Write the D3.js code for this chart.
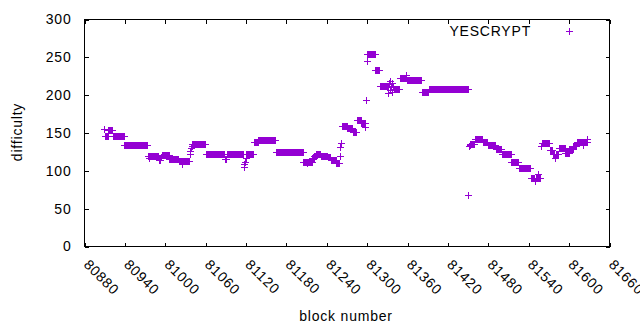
<!DOCTYPE html>
<html><head><meta charset="utf-8">
<script src="https://cdn.jsdelivr.net/npm/d3@7"></script>
<style>
body{margin:0;background:#fff}
svg text{font-family:"Liberation Sans",Arial,sans-serif;font-size:14px;fill:#000;letter-spacing:0.8px}
</style>
</head><body>
<svg id="chart" width="640" height="330"></svg>
<script>
// Difficulty per block, stored as runs of constant difficulty (start block, end block, value)
const runStart = [80910,80911,80916,80923,80940,80975,80991,80994,80996,81007,81021,81026,81027,81037,81038,81039,81040,81041,81061,81089,81092,81116,81117,81118,81119,81120,81121,81132,81139,81165,81206,81219,81222,81225,81232,81242,81247,81255,81260,81261,81262,81264,81271,81279,81285,81292,81298,81299,81300,81301,81313,81320,81332,81333,81334,81335,81336,81337,81338,81339,81340,81349,81359,81360,81382,81392,81451,81452,81453,81454,81461,81473,81480,81492,81501,81515,81526,81544,81559,81560,81572,81577,81585,81595,81601,81607,81612,81628];
const runEnd   = [80910,80915,80922,80939,80974,80990,80993,80995,81006,81020,81025,81026,81036,81037,81038,81039,81040,81060,81088,81091,81115,81116,81117,81118,81119,81120,81131,81138,81164,81205,81218,81221,81224,81231,81241,81246,81254,81259,81260,81261,81262,81270,81278,81284,81291,81297,81298,81299,81300,81312,81319,81331,81332,81333,81334,81335,81336,81337,81338,81339,81348,81358,81359,81381,81391,81450,81451,81452,81453,81460,81472,81479,81491,81500,81514,81525,81543,81558,81559,81571,81576,81584,81594,81600,81606,81611,81627,81628];
const runDiff  = [155,146,153,145,134,119.5,113,117,120.5,114.5,112,108,112,121,125,129,132,134.6,121,115,121,121,109,105,111,116,121,138,140,124,111.6,116,119,121,118.7,117,114,110,119.5,131,136,158,155.5,151,166,162,157,193,245,254,232.5,211,202,215,206,218,210,204,215,212,207,222,226,219,203,207,67,132,134,135,141,138,134,128,121,111,103,90,132,136,127,121,130,123,128,132,137,142];
// isolated values that replace the run value at a block
const outlierBlock = [80977,81212,81550,81555,81580,81622];
const outlierDiff  = [116,109.5,86,95,116,134];

const xTickValues = [80880,80940,81000,81060,81120,81180,81240,81300,81360,81420,81480,81540,81600,81660];
const yTickValues = [0,50,100,150,200,250,300];
const seriesName = "YESCRYPT";
const xLabel = "block number", yLabel = "difficulty";

const points = [];
runStart.forEach((s,i)=>{
  for(let b=s;b<=runEnd[i];b++){
    const k = outlierBlock.indexOf(b);
    points.push({block:b, diff: k>=0 ? outlierDiff[k] : runDiff[i]});
  }
});

const color = "#9400d3";
const svg = d3.select("#chart");
const L=84.5, R=609.5, T=19.5, B=246.5;
const x = d3.scaleLinear().domain([80880,81660]).range([L,R]);
const y = d3.scaleLinear().domain([0,300]).range([B,T]);

// axes (ticks inward, mirrored)
const gB = svg.append("g").attr("transform",`translate(0,${B})`)
  .call(d3.axisBottom(x).tickValues(xTickValues).tickSize(-4).tickFormat(d3.format("d")));
gB.selectAll("text").attr("x",-3).attr("y",0).attr("dy",0)
  .attr("transform","translate(0,21) rotate(45)").style("text-anchor","start");
const gT = svg.append("g").attr("transform",`translate(0,${T})`)
  .call(d3.axisTop(x).tickValues(xTickValues).tickSize(-4).tickFormat(""));
const gL = svg.append("g").attr("transform",`translate(${L},0)`)
  .call(d3.axisLeft(y).tickValues(yTickValues).tickSize(-4).tickPadding(13));
const gR = svg.append("g").attr("transform",`translate(${R},0)`)
  .call(d3.axisRight(y).tickValues(yTickValues).tickSize(-4).tickFormat(""));
[gB,gT,gL,gR].forEach(g=>{
  g.select(".domain").remove();
  g.selectAll("text").attr("font-family",null).attr("font-size",null).style("font-family",null).style("font-size",null);
  g.selectAll("line").attr("stroke","#000").attr("shape-rendering","crispEdges");
});

svg.append("rect").attr("x",L).attr("y",T).attr("width",R-L).attr("height",B-T)
  .attr("fill","none").attr("stroke","#000").attr("stroke-width",1).attr("shape-rendering","crispEdges");

// axis titles
svg.append("text").attr("transform","translate(22,132) rotate(-90)")
  .attr("text-anchor","middle").text(yLabel);
svg.append("text").attr("x",346).attr("y",321).attr("text-anchor","middle").text(xLabel);

// points
const plus = (px,py,s)=>`M${px-s},${py}H${px+s}M${px},${py-s}V${py+s}`;
svg.append("g").selectAll("path").data(points).join("path")
  .attr("d",d=>plus(x(d.block),y(d.diff),3.5))
  .attr("stroke",color).attr("stroke-width",1).attr("fill","none")
  .attr("shape-rendering","crispEdges");

// key
svg.append("text").attr("x",531).attr("y",36).attr("text-anchor","end").text(seriesName);
svg.append("path").attr("d",plus(569,31.5,3.5)).attr("stroke",color).attr("stroke-width",1)
  .attr("shape-rendering","crispEdges");
</script>
</body></html>
